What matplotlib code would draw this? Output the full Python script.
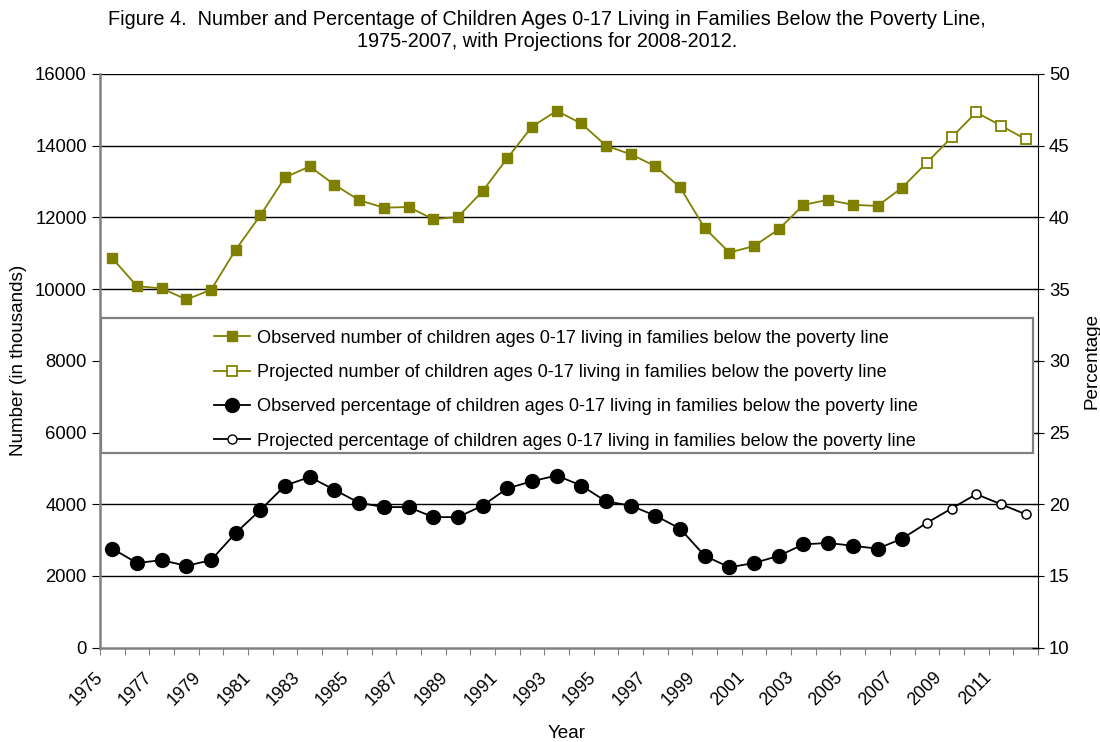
import numpy as np
import matplotlib
matplotlib.use("Agg")
import matplotlib.pyplot as plt
from matplotlib.lines import Line2D
from matplotlib.patches import Rectangle

plt.rcParams['font.family'] = ['Liberation Sans', 'DejaVu Sans']

years = list(range(1975, 2013))
obs_years = list(range(1975, 2008))
proj_years = list(range(2008, 2013))

# children in poverty (thousands)
num_obs = [10860, 10080, 10020, 9710, 9980, 11100, 12060, 13120, 13420, 12910,
           12480, 12270, 12290, 11950, 12010, 12730, 13650, 14530, 14970, 14620,
           14000, 13760, 13430, 12840, 11700, 11020, 11200, 11670, 12350, 12490,
           12350, 12320, 12830]
num_proj = [13530, 14230, 14930, 14560, 14180]

# percentage of children in poverty
pct_obs = [16.9, 15.9, 16.1, 15.7, 16.1, 18.0, 19.6, 21.3, 21.9, 21.0,
           20.1, 19.8, 19.8, 19.1, 19.1, 19.9, 21.1, 21.6, 22.0, 21.3,
           20.2, 19.9, 19.2, 18.3, 16.4, 15.6, 15.9, 16.4, 17.2, 17.3,
           17.1, 16.9, 17.6]
pct_proj = [18.7, 19.7, 20.7, 20.0, 19.3]

labels = [
    "Observed number of children ages 0-17 living in families below the poverty line",
    "Projected number of children ages 0-17 living in families below the poverty line",
    "Observed percentage of children ages 0-17 living in families below the poverty line",
    "Projected percentage of children ages 0-17 living in families below the poverty line",
]

olive = '#808000'
fs = 13.3

fig = plt.figure(figsize=(11, 7.42), dpi=100)
ax = fig.add_axes([0.0909, 0.1272, 0.8527, 0.7731])
ax2 = ax.twinx()

xi = np.arange(len(years))
xo = xi[:len(obs_years)]
xp = xi[len(obs_years):]
num_all = num_obs + num_proj
pct_all = pct_obs + pct_proj

# lines
ax.plot(xi, num_all, color=olive, lw=1.3, zorder=3)
ax.plot(xo, num_obs, ls='none', marker='s', ms=7, mfc=olive, mec=olive, zorder=4)
ax.plot(xp, num_proj, ls='none', marker='s', ms=6.5, mfc='white', mec=olive, mew=1.3, zorder=4)

ax2.plot(xi, pct_all, color='black', lw=1.3, zorder=3)
ax2.plot(xo, pct_obs, ls='none', marker='o', ms=10, mfc='black', mec='black', zorder=4)
ax2.plot(xp, pct_proj, ls='none', marker='o', ms=6.5, mfc='white', mec='black', mew=1.1, zorder=4)

ax.set_xlim(-0.5, len(years) - 0.5)
ax.set_ylim(0, 16000)
ax.set_yticks(np.arange(0, 16001, 2000))
ax2.set_ylim(10, 50)
ax2.set_yticks(np.arange(10, 51, 5))

for y in np.arange(2000, 16001, 2000):
    ax.axhline(y, color='black', lw=1.0, zorder=1)

ax.set_xticks(np.arange(-0.5, len(years)))
ax.set_xticklabels([])
ax.tick_params(axis='x', direction='out', length=5, color='#808080')
for i, yr in enumerate(years):
    if (yr - 1975) % 2 == 0:
        ax.text(i - 0.5, -0.047, str(yr), rotation=45, ha='right', va='center',
                rotation_mode='anchor', fontsize=12.8,
                transform=ax.get_xaxis_transform())

ax.tick_params(axis='y', direction='out', length=6, labelsize=fs, color='black')
ax2.tick_params(axis='y', direction='inout', length=9, labelsize=fs, color='black')

ax.spines['top'].set_visible(False)
ax2.spines['top'].set_visible(False)
ax.spines['left'].set_color('#808080')
ax.spines['left'].set_linewidth(1.8)
ax.spines['bottom'].set_color('#808080')
ax.spines['bottom'].set_linewidth(1.8)
ax2.spines['left'].set_visible(False)
ax2.spines['bottom'].set_visible(False)
ax.spines['right'].set_visible(False)
ax2.spines['right'].set_color('black')

ax.set_ylabel("Number (in thousands)", fontsize=13.6, labelpad=6)
ax2.set_ylabel("Percentage", fontsize=13.6, labelpad=10)
fig.text(0.5155, 1 - 733 / 742, "Year", fontsize=13.6, ha='center', va='center')

fig.suptitle("Figure 4.  Number and Percentage of Children Ages 0-17 Living in Families Below the Poverty Line,\n"
             "1975-2007, with Projections for 2008-2012.", fontsize=14.3, y=0.987, x=0.497,
             linespacing=1.2, va='top')

# legend frame
box = Rectangle((0.001, 0.3393), 0.9936, 0.2353, transform=ax2.transAxes,
                facecolor='white', edgecolor='#808080', lw=1.6, zorder=9)
ax2.add_patch(box)

handles = [
    Line2D([], [], color=olive, lw=1.3, marker='s', ms=7, mfc=olive, mec=olive),
    Line2D([], [], color=olive, lw=1.3, marker='s', ms=6.5, mfc='white', mec=olive, mew=1.3),
    Line2D([], [], color='black', lw=1.3, marker='o', ms=10, mfc='black'),
    Line2D([], [], color='black', lw=1.3, marker='o', ms=6.5, mfc='white', mec='black'),
]
leg = ax2.legend(handles, labels, loc='upper left', bbox_to_anchor=(0.1215, 0.554),
                 fontsize=13.1, frameon=False, handlelength=2.0,
                 handletextpad=0.35, borderaxespad=0, labelspacing=0.95,
                 borderpad=0)
leg.set_zorder(10)

fig.savefig("out.png", dpi=100)
